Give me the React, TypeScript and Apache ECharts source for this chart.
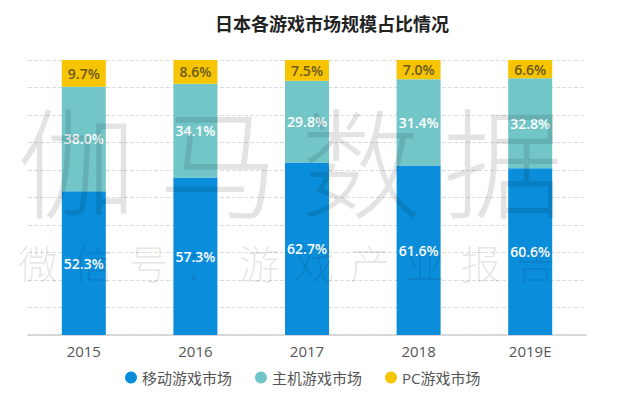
import React, { useEffect, useRef } from "react";
import * as echarts from "echarts";

const title = "日本各游戏市场规模占比情况";
const categories = ["2015", "2016", "2017", "2018", "2019E"];
const seriesNames = ["移动游戏市场", "主机游戏市场", "PC游戏市场"];
const mobile = [52.3, 57.3, 62.7, 61.6, 60.6];
const consoleShare = [38.0, 34.1, 29.8, 31.4, 32.8];
const pc = [9.7, 8.6, 7.5, 7.0, 6.6];
const colors = ["#0a8edc", "#72c6c8", "#f6c400"];
const watermarkBig = "伽马数据";
const watermarkSmall = "微信号：游戏产业报告";

export default function App() {
  const ref = useRef<HTMLDivElement>(null);
  useEffect(() => {
    if (!ref.current) return;
    const chart = echarts.init(ref.current, null, { renderer: "svg" });
    const font = "'Open Sans', 'Noto Sans CJK SC', sans-serif";
    const mk = (name: string, data: number[], color: string, labelColor: string) => ({
      name,
      type: "bar",
      stack: "total",
      data,
      barWidth: 44,
      itemStyle: { color },
      label: {
        show: true,
        position: "inside",
        formatter: (p: any) => p.value.toFixed(1) + "%",
        color: labelColor,
        fontSize: 14,
        fontWeight: 600,
        fontFamily: font,
      },
    });
    const wmBig = watermarkBig.split("").map((ch, i) => ({
      type: "text",
      x: 77 + 142 * i,
      y: 158,
      z: 100,
      silent: true,
      style: {
        text: ch,
        fontSize: 120,
        fontFamily: "'Noto Sans CJK SC', sans-serif",
        fontWeight: 300,
        fill: "rgba(0,0,0,0.11)",
        align: "center",
        verticalAlign: "middle",
      },
    }));
    const wmSmall = watermarkSmall.split("").map((ch, i) => ({
      type: "text",
      x: 38 + 55.3 * i,
      y: 262,
      z: 100,
      silent: true,
      style: {
        text: ch,
        fontSize: 40,
        fontFamily: "'Noto Sans CJK SC', sans-serif",
        fontWeight: 300,
        fill: "rgba(0,0,0,0.1)",
        align: "center",
        verticalAlign: "middle",
      },
    }));
    chart.setOption({
      animation: false,
      title: {
        text: title,
        left: 210,
        top: 9,
        textStyle: {
          fontSize: 18,
          fontWeight: "bold",
          color: "#222",
          fontFamily: "'Noto Sans CJK SC', sans-serif",
        },
      },
      legend: {
        top: 367,
        left: 125,
        padding: [3, 5, 3, 0],
        icon: "circle",
        itemWidth: 12,
        itemHeight: 12,
        itemGap: 23,
        textStyle: { fontSize: 15, color: "#555", fontFamily: font },
        data: seriesNames,
      },
      grid: { left: 28, right: 36, top: 60, bottom: 58 },
      xAxis: {
        type: "category",
        data: categories,
        axisTick: { show: false },
        axisLine: { lineStyle: { color: "#d0d0d0", width: 1.5 } },
        axisLabel: { fontSize: 15, color: "#555", margin: 8, fontFamily: font },
      },
      yAxis: {
        type: "value",
        min: 0,
        max: 100,
        interval: 10,
        axisLabel: { show: false },
        axisLine: { show: false },
        axisTick: { show: false },
        splitLine: { lineStyle: { color: "#dcdcdc", type: "dashed" } },
      },
      series: [
        mk(seriesNames[0], mobile, colors[0], "#ffffff"),
        mk(seriesNames[1], consoleShare, colors[1], "#ffffff"),
        mk(seriesNames[2], pc, colors[2], "#6b5a1e"),
      ],
      graphic: [...wmBig, ...wmSmall],
    });
    return () => chart.dispose();
  }, []);
  return <div ref={ref} style={{ width: 622, height: 393, position: "absolute", left: 0, top: 0 }} />;
}
